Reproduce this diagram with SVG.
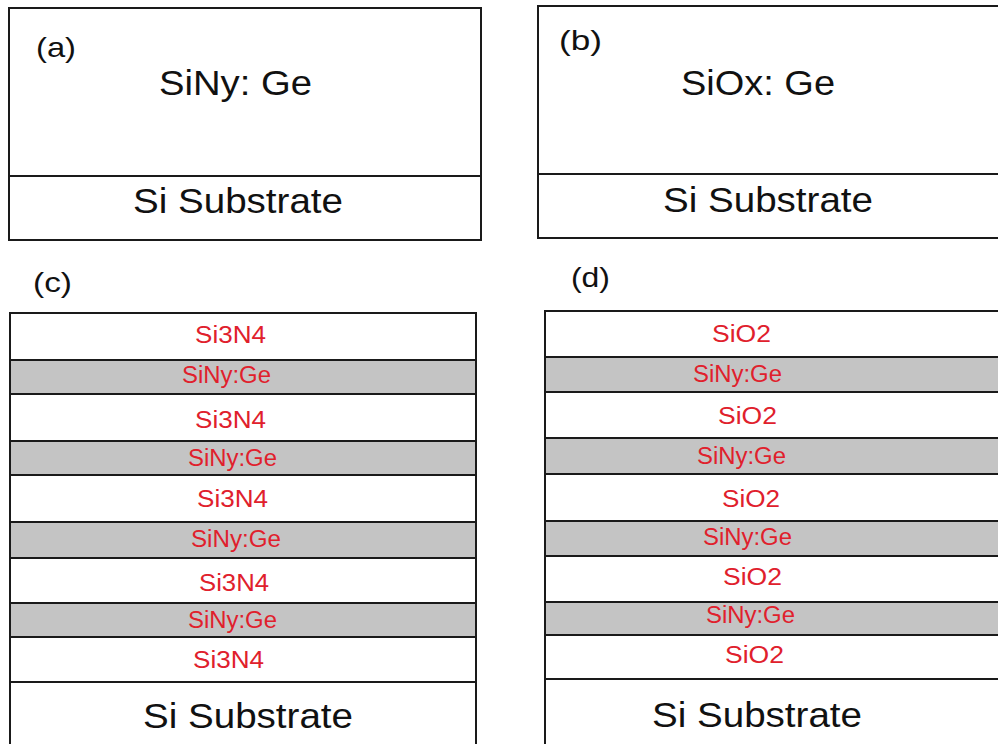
<svg xmlns="http://www.w3.org/2000/svg" width="998" height="744" viewBox="0 0 998 744">
<style>
.box{fill:#fff;stroke:#1a1a1a;stroke-width:2}
.g{fill:#c4c4c4;stroke:#1a1a1a;stroke-width:2}
.w{fill:#fff;stroke:#1a1a1a;stroke-width:2}
.lbl{font-family:"Liberation Sans",Arial,sans-serif;font-size:28px;fill:#111}
.big{font-family:"Liberation Sans",Arial,sans-serif;font-size:35px;fill:#111}
.red{font-family:"Liberation Sans",Arial,sans-serif;font-size:23px;fill:#e0202c}
</style>
<rect width="998" height="744" fill="#fff"/>
<g id="panel-a">
<rect class="box" x="9" y="8" width="472" height="232"/>
<line x1="9" y1="176" x2="481" y2="176" stroke="#1a1a1a" stroke-width="2"/>
<text class="lbl" x="36" y="57" textLength="40" lengthAdjust="spacingAndGlyphs">(a)</text>
<text class="big" x="159" y="95" textLength="153" lengthAdjust="spacingAndGlyphs">SiNy: Ge</text>
<text class="big" x="133" y="213" textLength="210" lengthAdjust="spacingAndGlyphs">Si Substrate</text>
</g>
<g id="panel-b">
<rect class="box" x="538" y="6" width="470" height="232"/>
<line x1="538" y1="174" x2="1000" y2="174" stroke="#1a1a1a" stroke-width="2"/>
<text class="lbl" x="559" y="50" textLength="43" lengthAdjust="spacingAndGlyphs">(b)</text>
<text class="big" x="681" y="95" textLength="154" lengthAdjust="spacingAndGlyphs">SiOx: Ge</text>
<text class="big" x="663" y="212" textLength="210" lengthAdjust="spacingAndGlyphs">Si Substrate</text>
</g>
<g id="panel-c">
<text class="lbl" x="33" y="292" textLength="39" lengthAdjust="spacingAndGlyphs">(c)</text>
<rect class="w" x="10" y="313" width="466" height="47"/>
<rect class="g" x="10" y="360" width="466" height="34"/>
<rect class="w" x="10" y="394" width="466" height="47"/>
<rect class="g" x="10" y="441" width="466" height="34"/>
<rect class="w" x="10" y="475" width="466" height="47"/>
<rect class="g" x="10" y="522" width="466" height="36"/>
<rect class="w" x="10" y="558" width="466" height="45"/>
<rect class="g" x="10" y="603" width="466" height="34"/>
<rect class="w" x="10" y="637" width="466" height="45"/>
<rect class="w" x="10" y="682" width="466" height="70"/>
<text class="red" x="195" y="343" textLength="71" lengthAdjust="spacingAndGlyphs">Si3N4</text>
<text class="red" x="182" y="383" textLength="89" lengthAdjust="spacingAndGlyphs">SiNy:Ge</text>
<text class="red" x="195" y="428" textLength="71" lengthAdjust="spacingAndGlyphs">Si3N4</text>
<text class="red" x="188" y="466" textLength="89" lengthAdjust="spacingAndGlyphs">SiNy:Ge</text>
<text class="red" x="197" y="507" textLength="71" lengthAdjust="spacingAndGlyphs">Si3N4</text>
<text class="red" x="191" y="547" textLength="90" lengthAdjust="spacingAndGlyphs">SiNy:Ge</text>
<text class="red" x="199" y="591" textLength="70" lengthAdjust="spacingAndGlyphs">Si3N4</text>
<text class="red" x="188" y="628" textLength="89" lengthAdjust="spacingAndGlyphs">SiNy:Ge</text>
<text class="red" x="193" y="668" textLength="71" lengthAdjust="spacingAndGlyphs">Si3N4</text>
<text class="big" x="143" y="728" textLength="210" lengthAdjust="spacingAndGlyphs">Si Substrate</text>
</g>
<g id="panel-d">
<text class="lbl" x="571" y="287" textLength="39" lengthAdjust="spacingAndGlyphs">(d)</text>
<rect class="w" x="545" y="311" width="460" height="46"/>
<rect class="g" x="545" y="357" width="460" height="35"/>
<rect class="w" x="545" y="392" width="460" height="46"/>
<rect class="g" x="545" y="438" width="460" height="36"/>
<rect class="w" x="545" y="474" width="460" height="47"/>
<rect class="g" x="545" y="521" width="460" height="35"/>
<rect class="w" x="545" y="556" width="460" height="46"/>
<rect class="g" x="545" y="602" width="460" height="33"/>
<rect class="w" x="545" y="635" width="460" height="44"/>
<rect class="w" x="545" y="679" width="460" height="73"/>
<text class="red" x="712" y="342" textLength="59" lengthAdjust="spacingAndGlyphs">SiO2</text>
<text class="red" x="693" y="382" textLength="89" lengthAdjust="spacingAndGlyphs">SiNy:Ge</text>
<text class="red" x="718" y="424" textLength="59" lengthAdjust="spacingAndGlyphs">SiO2</text>
<text class="red" x="697" y="464" textLength="89" lengthAdjust="spacingAndGlyphs">SiNy:Ge</text>
<text class="red" x="722" y="507" textLength="58" lengthAdjust="spacingAndGlyphs">SiO2</text>
<text class="red" x="703" y="545" textLength="89" lengthAdjust="spacingAndGlyphs">SiNy:Ge</text>
<text class="red" x="723" y="585" textLength="59" lengthAdjust="spacingAndGlyphs">SiO2</text>
<text class="red" x="706" y="623" textLength="89" lengthAdjust="spacingAndGlyphs">SiNy:Ge</text>
<text class="red" x="725" y="663" textLength="59" lengthAdjust="spacingAndGlyphs">SiO2</text>
<text class="big" x="652" y="727" textLength="210" lengthAdjust="spacingAndGlyphs">Si Substrate</text>
</g>
<g id="connectors"></g>
</svg>
